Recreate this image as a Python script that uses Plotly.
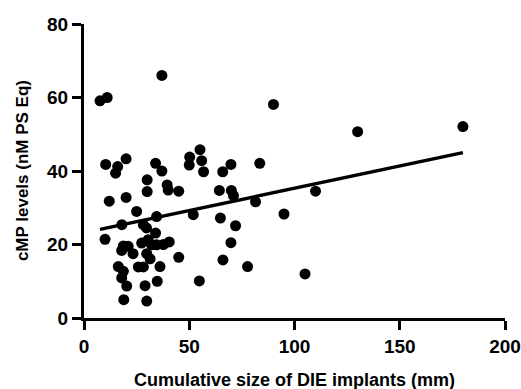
import plotly.graph_objects as go

# Cumulative implant size (mm) and cMP level (nM PS Eq) per patient
implant_size_mm = [
    7.6, 11, 37, 90, 130, 180, 83.5, 110, 95, 105,
    10.3, 16, 15, 20, 12, 20,
    34, 37, 30, 30, 39.5, 40, 45,
    50.2, 50, 55.1, 55.9, 56.8,
    64.3, 70, 71, 65.9, 69.8, 81.5,
    51.9, 64.8, 72, 69.8, 45, 66, 77.7, 54.8,
    25, 34.5, 18, 28.2, 29.7, 34, 10, 18.7, 17.9, 21, 23.3,
    27.4, 30.5, 32.1, 34.5, 37.7, 40.5, 29.8, 31.4,
    16.3, 18.7, 25.8, 28.2, 36.1, 17.9, 20.3, 29, 34.8, 18.9, 29.8,
]
cmp_level = [
    59.1, 60.0, 66, 58.1, 50.7, 52.1, 42.1, 34.5, 28.3, 12,
    41.8, 41.2, 39.4, 43.3, 31.8, 32.8,
    42.1, 40, 37.6, 34.4, 36.2, 34.8, 34.5,
    43.8, 41.6, 45.8, 42.8, 39.8,
    34.7, 34.7, 33.3, 39.8, 41.8, 31.6,
    28.1, 27.2, 25.1, 20.5, 16.5, 15.8, 14, 10.1,
    29, 27.6, 25.4, 25.4, 24.5, 23.1, 21.4, 19.6, 18.4, 19.5, 17.5,
    20.4, 21.3, 19.9, 19.9, 20, 20.7, 17.5, 16.1,
    14, 12.7, 13.9, 13.9, 14, 10.9, 8.7, 8.8, 10, 5, 4.6,
]

# Linear regression line end points
fit_x = [7.6, 180]
fit_y = [24.1, 45.0]

x_ticks = [0, 50, 100, 150, 200]
y_ticks = [0, 20, 40, 60, 80]

x_title = "Cumulative size of DIE implants (mm)"
y_title = "cMP levels (nM PS Eq)"

font_family = "Liberation Sans, Arial, sans-serif"

fig = go.Figure()
fig.add_trace(go.Scatter(
    x=implant_size_mm, y=cmp_level, mode="markers",
    marker=dict(color="black", size=11, line=dict(width=0)),
    cliponaxis=False, showlegend=False,
))
fig.add_trace(go.Scatter(
    x=fit_x, y=fit_y, mode="lines",
    line=dict(color="black", width=3.4),
    cliponaxis=False, showlegend=False,
))

axis_common = dict(
    showgrid=False, zeroline=False, automargin=False,
    showline=True, linecolor="black", linewidth=3,
    ticks="outside", ticklen=9, tickwidth=3, tickcolor="black",
    tickfont=dict(family=font_family, size=19, color="black", weight="bold"),
)

fig.update_layout(
    width=521, height=389,
    margin=dict(l=84, r=16, t=24, b=71),
    paper_bgcolor="white", plot_bgcolor="white",
    xaxis=dict(range=[0, 200], tickvals=x_ticks,
               ticktext=[str(v) for v in x_ticks], **axis_common),
    yaxis=dict(range=[0, 80], tickvals=y_ticks,
               ticktext=[str(v) for v in y_ticks], **axis_common),
    annotations=[
        dict(text=f"<b>{x_title}</b>", xref="paper", yref="paper",
             x=0.5, y=-0.211, xanchor="center", yanchor="middle",
             showarrow=False,
             font=dict(family=font_family, size=18, color="black")),
        dict(text=f"<b>{y_title}</b>", xref="paper", yref="paper",
             x=-0.147, y=0.5, xanchor="center", yanchor="middle",
             textangle=-90, showarrow=False,
             font=dict(family=font_family, size=17, color="black")),
    ],
)

fig.write_html("out.html")
